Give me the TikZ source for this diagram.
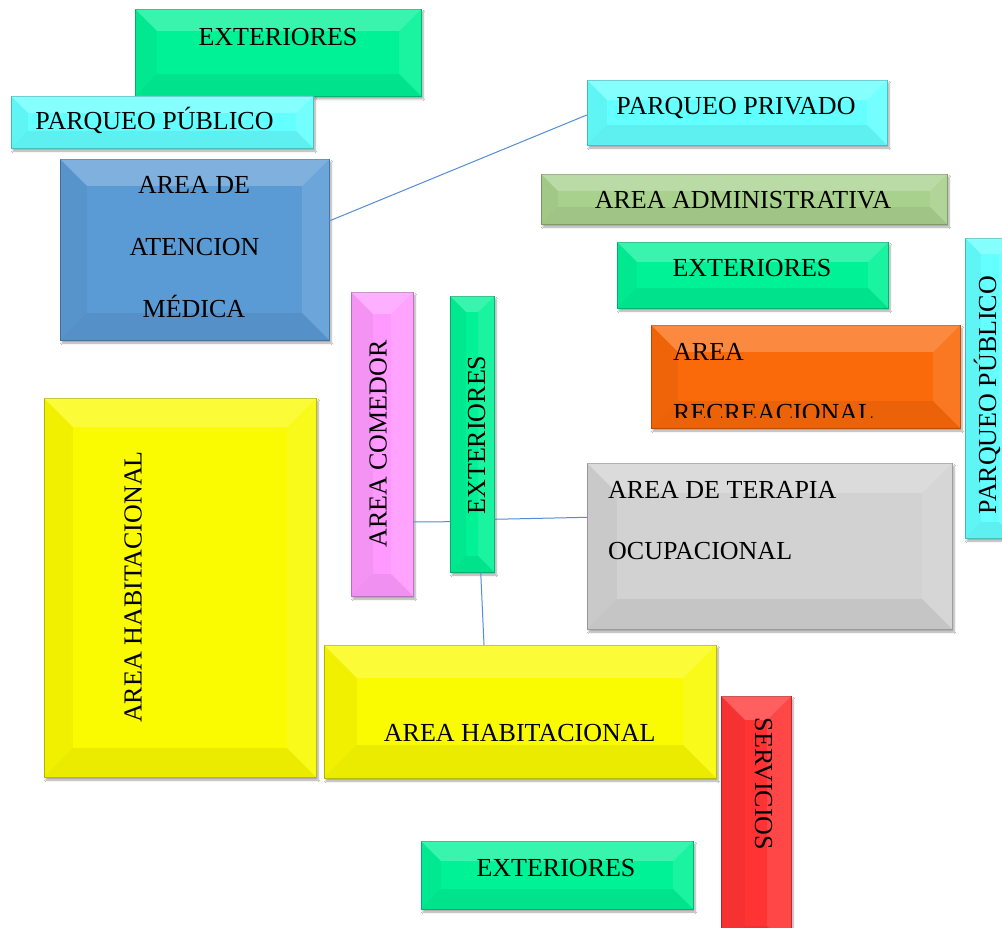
\documentclass[tikz,border=0pt]{standalone}
\usepackage{fontspec}
\setmainfont{Liberation Serif}
\usetikzlibrary{shadows.blur}
\definecolor{cgreen}{RGB}{0,242,150}
\definecolor{ccyan}{RGB}{100,255,255}
\definecolor{cblue}{RGB}{91,155,213}
\definecolor{cadm}{RGB}{169,209,142}
\definecolor{corange}{RGB}{250,105,10}
\definecolor{cpink}{RGB}{255,153,255}
\definecolor{cgray}{RGB}{210,210,210}
\definecolor{cyellow}{RGB}{250,250,0}
\definecolor{cred}{RGB}{255,51,51}
\definecolor{cline}{RGB}{84,141,212}
\newcommand\mybevel[2]{%
 \fill[white,opacity=.22] (#1.north west) -- (#1.north east) -- ([xshift=-#2pt,yshift=-#2pt]#1.north east) -- ([xshift=#2pt,yshift=-#2pt]#1.north west) -- cycle;
 \fill[black,opacity=.04] (#1.north west) -- ([xshift=#2pt,yshift=-#2pt]#1.north west) -- ([xshift=#2pt,yshift=#2pt]#1.south west) -- (#1.south west) -- cycle;
 \fill[white,opacity=.10] (#1.north east) -- ([xshift=-#2pt,yshift=-#2pt]#1.north east) -- ([xshift=-#2pt,yshift=#2pt]#1.south east) -- (#1.south east) -- cycle;
 \fill[black,opacity=.06] (#1.south west) -- ([xshift=#2pt,yshift=#2pt]#1.south west) -- ([xshift=-#2pt,yshift=#2pt]#1.south east) -- (#1.south east) -- cycle;
}
\tikzset{
 area/.style={rectangle, inner sep=0pt, fill=#1, draw=#1!75!black, line width=.4pt,
   blur shadow={shadow xshift=2pt, shadow yshift=-3pt, shadow blur steps=6, shadow opacity=35}},
 lbl/.style={font=\fontsize{26}{30}\selectfont, inner sep=0pt, anchor=base},
 lblw/.style={lbl, anchor=base west},
 conn/.style={draw=cline, line width=1pt}
}
\begin{document}
\begin{tikzpicture}[x=1pt,y=-1pt]
\clip (0,0) rectangle (1002,928);
\fill[white] (0,0) rectangle (1002,928);
% boxes
\node[area=cgreen, minimum width=286pt, minimum height=87pt] (ext1) at (278,52.5) {};
\mybevel{ext1}{22}
\node[area=ccyan, minimum width=302pt, minimum height=52pt] (pp1) at (162,122) {};
\mybevel{pp1}{17}
\node[area=cblue, minimum width=269pt, minimum height=181pt] (med) at (194.5,249.5) {};
\mybevel{med}{27}
\node[area=ccyan, minimum width=300pt, minimum height=65pt] (ppriv) at (737,112.5) {};
\mybevel{ppriv}{20}
\node[area=cadm, minimum width=406pt, minimum height=50pt] (adm) at (744,199) {};
\mybevel{adm}{17}
\node[area=cgreen, minimum width=271pt, minimum height=66pt] (ext2) at (752.5,275) {};
\mybevel{ext2}{20}
\node[area=ccyan, minimum width=50pt, minimum height=300pt] (pp2) at (990,388) {};
\mybevel{pp2}{16}
\node[area=corange, minimum width=309pt, minimum height=103pt] (rec) at (805.5,376.5) {};
\mybevel{rec}{27}
\node[area=cgray, minimum width=365pt, minimum height=166pt] (ter) at (769.5,546) {};
\mybevel{ter}{30}
\node[area=cpink, minimum width=62pt, minimum height=304pt] (com) at (382,444) {};
\mybevel{com}{22}
\node[area=cgreen, minimum width=44pt, minimum height=276pt] (ext3) at (472,434) {};
\mybevel{ext3}{16}
\node[area=cyellow, minimum width=272pt, minimum height=379pt] (hab1) at (180,587.5) {};
\mybevel{hab1}{29}
\node[area=cyellow, minimum width=392pt, minimum height=133pt] (hab2) at (520,711.5) {};
\mybevel{hab2}{33}
\node[area=cred, minimum width=70pt, minimum height=254pt] (serv) at (756,823) {};
\mybevel{serv}{24}
\node[area=cgreen, minimum width=272pt, minimum height=68pt] (ext4) at (557,875) {};
\mybevel{ext4}{20}
% connectors
\draw[conn] ([yshift=28.5pt]med.east) -- ([yshift=-2.5pt]ppriv.west);
\draw[conn] ([yshift=-78pt]com.east) -- ([yshift=-87.7pt]ext3.west);
\draw[conn] ([yshift=-85.3pt]ext3.east) -- ([yshift=28.7pt]ter.west);
\draw[conn] ([xshift=8.7pt]ext3.south) -- ([xshift=-36pt]hab2.north);
% labels
\node[lbl] (t1) at (278,46) {EXTERIORES};
\node[lbl] (t2) at (154.5,130) {PARQUEO PÚBLICO};
\node[lbl] (t3a) at (194,194) {AREA DE};
\node[lbl] (t3b) at (194.5,256) {ATENCION};
\node[lbl] (t3c) at (194,317) {MÉDICA};
\node[lbl] (t4) at (736,115) {PARQUEO PRIVADO};
\node[lbl] (t5) at (743,209) {AREA ADMINISTRATIVA};
\node[lbl] (t6) at (752,277) {EXTERIORES};
\node[lbl, rotate=90] (t7) at (996,395) {PARQUEO PÚBLICO};
\node[lblw] (t8a) at (673,360) {AREA};
\begin{scope}
\clip (640,300) rectangle (970,417);
\node[lblw] (t8b) at (673,421) {RECREACIONAL};
\end{scope}
\node[lblw] (t9a) at (608,498) {AREA DE TERAPIA};
\node[lblw] (t9b) at (608,559) {OCUPACIONAL};
\node[lbl, rotate=90] (t10) at (386.7,444) {AREA COMEDOR};
\node[lbl, rotate=90] (t11) at (485,435) {EXTERIORES};
\node[lbl, rotate=90] (t12) at (141.7,587) {AREA HABITACIONAL};
\node[lbl] (t13) at (519.7,741) {AREA HABITACIONAL};
\node[lbl, rotate=-90] (t14) at (755,784) {SERVICIOS};
\node[lbl] (t15) at (556,876) {EXTERIORES};
\end{tikzpicture}
\end{document}
